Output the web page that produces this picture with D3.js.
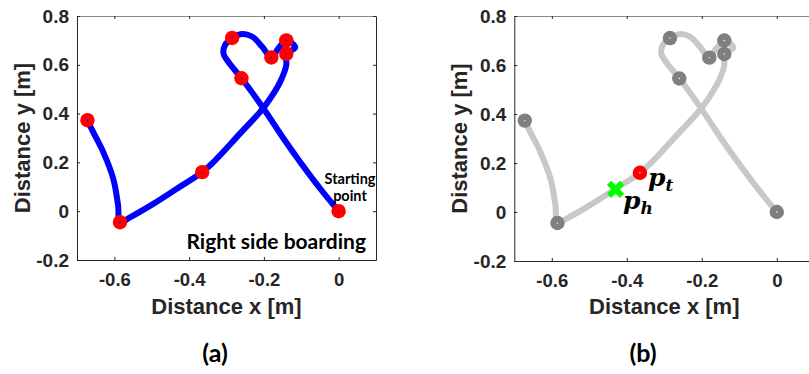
<!DOCTYPE html>
<html>
<head>
<meta charset="utf-8">
<script src="https://cdn.jsdelivr.net/npm/d3@7"></script>
<style>
  body { margin: 0; background: #fff; }
  svg text { font-family: "Liberation Sans", Arial, sans-serif; }
</style>
</head>
<body>
<div id="chart"></div>
<script>
// Trajectory (x, y in metres)
const pathX = [0, -0.049, -0.103, -0.147, -0.201, -0.246, -0.26, -0.299, -0.308, -0.304, -0.285, -0.259, -0.232, -0.205, -0.18, -0.161, -0.14, -0.116, -0.14, -0.140, -0.156, -0.183, -0.210, -0.264, -0.326, -0.365, -0.433, -0.496, -0.558, -0.585, -0.590, -0.603, -0.630, -0.657, -0.672];
const pathY = [0, 0.092, 0.202, 0.297, 0.421, 0.517, 0.545, 0.62, 0.647, 0.681, 0.71, 0.726, 0.716, 0.675, 0.63, 0.668, 0.70, 0.671, 0.645, 0.599, 0.531, 0.462, 0.407, 0.318, 0.215, 0.16, 0.092, 0.030, -0.025, -0.045, 0.023, 0.133, 0.243, 0.325, 0.373];

// Way points (markers)
const markX = [0, -0.14, -0.14, -0.18, -0.285, -0.26, -0.365, -0.585, -0.672];
const markY = [0, 0.645, 0.70, 0.63, 0.71, 0.545, 0.16, -0.045, 0.373];

// Panel (b): tracked point and hand point
const ptX = -0.365, ptY = 0.16;
const phX = -0.43, phY = 0.092;

const xTicks = [-0.6, -0.4, -0.2, 0];
const yTicks = [-0.2, 0, 0.2, 0.4, 0.6, 0.8];
const xDomain = [-0.7, 0.1];
const yDomain = [-0.2, 0.8];

const W = 809, H = 374;
const dark = '#262626';

const svg = d3.select('#chart').append('svg')
    .attr('width', W).attr('height', H);

function drawPanel(opts) {
    const x = d3.scaleLinear().domain(xDomain).range([opts.left, opts.right]);
    const y = d3.scaleLinear().domain(yDomain).range([opts.bottom, opts.top]);
    const g = svg.append('g');

    // Box + inward ticks
    const fmt = d => d === 0 ? '0' : d3.format('.1f')(d).replace('−', '-');
    g.append('g').attr('transform', `translate(0,${opts.bottom})`)
        .call(d3.axisBottom(x).tickValues(xTicks).tickFormat(fmt).tickSizeInner(-3).tickSizeOuter(0).tickPadding(13))
        .call(a => a.select('.domain').attr('stroke', dark))
        .call(a => a.selectAll('.tick line').attr('stroke', dark))
        .call(a => a.selectAll('text').attr('fill', dark).attr('font-size', 18.5).attr('font-weight', 'bold').attr('dy', '0.71em'));
    g.append('g').attr('transform', `translate(0,${opts.top})`)
        .call(d3.axisTop(x).tickValues(xTicks).tickFormat('').tickSizeInner(-3).tickSizeOuter(0))
        .call(a => a.select('.domain').attr('stroke', '#8a8a8a'))
        .call(a => a.selectAll('.tick line').attr('stroke', dark));
    g.append('g').attr('transform', `translate(${opts.left},0)`)
        .call(d3.axisLeft(y).tickValues(yTicks).tickFormat(fmt).tickSizeInner(-3).tickSizeOuter(0).tickPadding(8))
        .call(a => a.select('.domain').attr('stroke', dark))
        .call(a => a.selectAll('.tick line').attr('stroke', dark))
        .call(a => a.selectAll('text').attr('fill', dark).attr('font-size', 19).attr('font-weight', 'bold'));
    g.append('g').attr('transform', `translate(${opts.right},0)`)
        .call(d3.axisRight(y).tickValues(yTicks).tickFormat('').tickSizeInner(-3).tickSizeOuter(0))
        .call(a => a.select('.domain').attr('stroke', dark))
        .call(a => a.selectAll('.tick line').attr('stroke', dark));
    g.selectAll('.domain').attr('stroke-width', 1);

    // Axis labels
    g.append('text')
        .attr('x', (opts.left + opts.right) / 2).attr('y', 314)
        .attr('text-anchor', 'middle').attr('font-size', 22).attr('font-weight', 'bold')
        .attr('fill', dark).text('Distance x [m]');
    g.append('text')
        .attr('transform', `translate(${opts.left - 47},${(opts.top + opts.bottom) / 2}) rotate(-90)`)
        .attr('text-anchor', 'middle').attr('font-size', 22).attr('font-weight', 'bold')
        .attr('fill', dark).text('Distance y [m]');

    // Trajectory
    const pts = pathX.map((v, i) => [x(v), y(pathY[i])]);
    g.append('path')
        .attr('d', d3.line().curve(d3.curveCatmullRom.alpha(0.5))(pts))
        .attr('fill', 'none').attr('stroke', opts.lineColor)
        .attr('stroke-width', 6).attr('stroke-linecap', 'round').attr('stroke-linejoin', 'round');

    // Markers
    markX.forEach((v, i) => {
        if (opts.skipMarker && v === ptX && markY[i] === ptY) return;
        g.append('circle').attr('cx', x(v)).attr('cy', y(markY[i])).attr('r', 7.2)
            .attr('fill', opts.markColor);
        g.append('circle').attr('cx', x(v)).attr('cy', y(markY[i])).attr('r', 0.7)
            .attr('fill', opts.dotColor);
    });

    // Panel caption
    svg.append('text')
        .attr('x', opts.capX).attr('y', 362)
        .attr('text-anchor', 'middle').attr('font-size', 25).attr('font-weight', 'bold')
        .style('font-family', 'Lato, "Open Sans", sans-serif')
        .attr('fill', '#000').text(opts.caption);

    return { g, x, y };
}

// Panel (a)
const pa = drawPanel({ left: 77, right: 376, top: 16, bottom: 260, lineColor: '#0000ff',
    markColor: '#ff0000', dotColor: '#0000ff', caption: '(a)', capX: 215 });

pa.g.append('text').attr('x', 366).attr('y', 249).attr('text-anchor', 'end')
    .attr('font-size', 21).attr('font-weight', 'bold')
    .style('font-family', 'Lato, "Open Sans", sans-serif')
    .attr('fill', '#000').text('Right side boarding');
const start = pa.g.append('text').attr('text-anchor', 'middle')
    .attr('font-size', 14.5).attr('font-weight', 'bold')
    .style('font-family', 'Lato, "Open Sans", sans-serif').attr('fill', '#000');
start.append('tspan').attr('x', 350).attr('y', 184).text('Starting');
start.append('tspan').attr('x', 350).attr('y', 201).text('point');

// Panel (b)
const pb = drawPanel({ left: 514.3, right: 814.3, top: 16, bottom: 261, lineColor: '#c8c8c8',
    markColor: '#7f7f7f', dotColor: '#ffffff', caption: '(b)', capX: 643, skipMarker: true });

pb.g.append('circle').attr('cx', pb.x(ptX)).attr('cy', pb.y(ptY)).attr('r', 7.2).attr('fill', '#ff0000');
pb.g.append('circle').attr('cx', pb.x(ptX)).attr('cy', pb.y(ptY)).attr('r', 0.7).attr('fill', '#ffffff');

const cx = pb.x(phX), cy = pb.y(phY), s = 6.5;
pb.g.append('path')
    .attr('d', `M${cx - s},${cy - s}L${cx + s},${cy + s}M${cx - s},${cy + s}L${cx + s},${cy - s}`)
    .attr('stroke', '#00ff00').attr('stroke-width', 6).attr('stroke-linecap', 'butt');

function pLabel(px, py, sub) {
    const t = pb.g.append('text').attr('x', px).attr('y', py)
        .style('font-family', '"DejaVu Serif", serif').attr('font-style', 'italic')
        .attr('font-weight', 'bold').attr('font-size', 25).attr('fill', '#000');
    t.append('tspan').text('p');
    t.append('tspan').attr('font-size', 17).attr('dy', 5).text(sub);
}
pLabel(648, 186, 't');
pLabel(623, 209, 'h');
</script>
</body>
</html>
